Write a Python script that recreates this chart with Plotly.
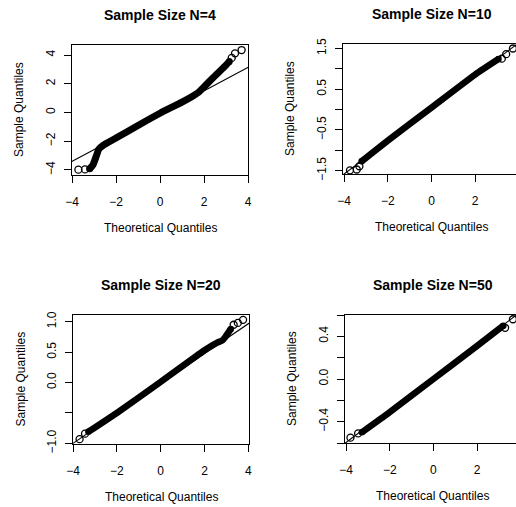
import plotly.graph_objects as go

# ---------------- data ----------------
titles = ["Sample Size N=4", "Sample Size N=10", "Sample Size N=20", "Sample Size N=50"]
x_title = "Theoretical Quantiles"
y_title = "Sample Quantiles"

# dense band of sample quantiles (traced along its centre)
n4_band_x = [-3.2, -3.05, -2.9, -2.78, -2.6, -2.0, -1.0, 0.0, 1.0, 1.5, 1.75, 2.0, 2.5, 3.0, 3.15]
n4_band_y = [-3.92, -3.65, -3.05, -2.55, -2.3, -1.78, -0.9, -0.05, 0.72, 1.15, 1.4, 1.78, 2.55, 3.3, 3.55]
n4_pts_x = [-3.71, -3.41, 3.26, 3.41, 3.71]
n4_pts_y = [-3.98, -3.96, 3.8, 4.12, 4.35]
n4_line_x = [-4.1, 4.1]
n4_line_y = [-3.48, 3.23]

n10_band_x = [-3.2, -2.0, 0.0, 2.0, 3.07]
n10_band_y = [-1.27, -0.76, 0.05, 0.86, 1.24]
n10_pts_x = [-3.73, -3.42, -3.3, 3.22, 3.42, 3.73]
n10_pts_y = [-1.49, -1.47, -1.39, 1.25, 1.36, 1.5]
n10_line_x = [-4.1, 3.9]
n10_line_y = [-1.62, 1.6]

n20_band_x = [-3.3, -2.0, 0.0, 2.0, 2.6, 2.8, 2.95, 3.1, 3.2]
n20_band_y = [-0.81, -0.5, 0.01, 0.53, 0.66, 0.69, 0.75, 0.83, 0.88]
n20_pts_x = [-3.7, -3.45, 3.33, 3.52, 3.76]
n20_pts_y = [-0.93, -0.84, 0.95, 0.98, 1.03]
n20_line_x = [-4.0, 4.05]
n20_line_y = [-1.0, 0.98]

n50_band_x = [-3.28, -2.0, 0.0, 2.0, 3.2]
n50_band_y = [-0.5, -0.31, 0.0, 0.31, 0.5]
n50_pts_x = [-3.8, -3.45, 3.28, 3.64]
n50_pts_y = [-0.55, -0.51, 0.48, 0.56]
n50_line_x = [-4.1, 3.8]
n50_line_y = [-0.61, 0.6]

x_ticks = [-4, -2, 0, 2, 4]
x_tick_text = ["\u22124", "\u22122", "0", "2", "4"]

y_ticks_n4 = [-4, -2, 0, 2, 4]
y_text_n4 = ["\u22124", "\u22122", "0", "2", "4"]
y_ticks_n10 = [-1.5, -1.0, -0.5, 0.0, 0.5, 1.0, 1.5]
y_text_n10 = ["\u22121.5", "", "\u22120.5", "", "0.5", "", "1.5"]
y_ticks_n20 = [-1.0, -0.5, 0.0, 0.5, 1.0]
y_text_n20 = ["\u22121.0", "", "0.0", "0.5", "1.0"]
y_ticks_n50 = [-0.6, -0.4, -0.2, 0.0, 0.2, 0.4, 0.6]
y_text_n50 = ["", "\u22120.4", "", "0.0", "", "0.4", ""]

# ---------------- layout ----------------
W, H = 516, 507
FONT = "Liberation Sans, Arial, Helvetica, sans-serif"

panels = [
    dict(bx=n4_band_x, by=n4_band_y, px=n4_pts_x, py=n4_pts_y, lx=n4_line_x, ly=n4_line_y,
         xr=[-4.0, 4.0], yr=[-4.35, 4.7], yt=y_ticks_n4, ytt=y_text_n4,
         box=(72, 248, 45, 175), right=True, bw=7),
    dict(bx=n10_band_x, by=n10_band_y, px=n10_pts_x, py=n10_pts_y, lx=n10_line_x, ly=n10_line_y,
         xr=[-4.05, 3.87], yr=[-1.58, 1.61], yt=y_ticks_n10, ytt=y_text_n10,
         box=(343, 516, 44, 174), right=False, bw=6.5),
    dict(bx=n20_band_x, by=n20_band_y, px=n20_pts_x, py=n20_pts_y, lx=n20_line_x, ly=n20_line_y,
         xr=[-4.0, 4.03], yr=[-1.01, 1.11], yt=y_ticks_n20, ytt=y_text_n20,
         box=(73, 249, 315, 444), right=True, bw=6.5),
    dict(bx=n50_band_x, by=n50_band_y, px=n50_pts_x, py=n50_pts_y, lx=n50_line_x, ly=n50_line_y,
         xr=[-4.05, 3.78], yr=[-0.6, 0.6], yt=y_ticks_n50, ytt=y_text_n50,
         box=(345, 516, 315, 443), right=False, bw=6.5),
]

fig = go.Figure()
layout = dict(width=W, height=H, margin=dict(l=0, r=0, t=0, b=0, autoexpand=False),
              paper_bgcolor="white", plot_bgcolor="white", showlegend=False,
              font=dict(family=FONT, color="black", size=12))
annotations = []

for i, p in enumerate(panels):
    n = "" if i == 0 else str(i + 1)
    xa, ya = "x" + n, "y" + n
    x0, x1, y0, y1 = p["box"]
    xdom = [x0 / W, x1 / W]
    ydom = [1 - y1 / H, 1 - y0 / H]
    layout["xaxis" + n] = dict(
        domain=xdom, anchor=ya, range=p["xr"], tickmode="array", automargin=False,
        tickvals=x_ticks, ticktext=x_tick_text, ticks="outside", ticklen=7,
        tickwidth=1.2, tickcolor="black", showline=True, linecolor="black",
        linewidth=1.4, mirror=True, showgrid=False, zeroline=False,
        tickfont=dict(size=12, family=FONT), ticklabelstandoff=8)
    layout["yaxis" + n] = dict(
        domain=ydom, anchor=xa, range=p["yr"], tickmode="array", automargin=False,
        tickvals=p["yt"], ticktext=p["ytt"], ticks="outside", ticklen=7,
        tickwidth=1.2, tickcolor="black", showline=True, linecolor="black",
        linewidth=1.4, mirror=p["right"], showgrid=False, zeroline=False,
        tickangle=-90, tickfont=dict(size=12, family=FONT), ticklabelstandoff=4)

    fig.add_trace(go.Scatter(x=p["lx"], y=p["ly"], mode="lines", xaxis=xa, yaxis=ya,
                             line=dict(color="black", width=1.1), hoverinfo="skip"))
    fig.add_trace(go.Scatter(x=p["bx"], y=p["by"], mode="lines", xaxis=xa, yaxis=ya,
                             line=dict(color="black", width=p["bw"], shape="spline", smoothing=0.5),
                             hoverinfo="skip"))
    # rounded ends of the dense band
    fig.add_trace(go.Scatter(x=[p["bx"][0], p["bx"][-1]], y=[p["by"][0], p["by"][-1]],
                             mode="markers", xaxis=xa, yaxis=ya,
                             marker=dict(symbol="circle", size=p["bw"], color="black"),
                             hoverinfo="skip"))
    fig.add_trace(go.Scatter(x=p["px"], y=p["py"], mode="markers", xaxis=xa, yaxis=ya,
                             marker=dict(symbol="circle-open", size=7, color="black",
                                         line=dict(width=1.3, color="black")),
                             cliponaxis=False, hoverinfo="skip"))

    cx = (x0 + x1) / 2 if p["right"] else (x0 + 520) / 2
    annotations.append(dict(text="<b>" + titles[i] + "</b>", x=cx / W, y=1 - (y0 - 30) / H,
                            xref="paper", yref="paper", showarrow=False,
                            font=dict(size=14, family=FONT), xanchor="center", yanchor="middle"))
    annotations.append(dict(text=x_title, x=cx / W, y=1 - (y1 + 53) / H,
                            xref="paper", yref="paper", showarrow=False,
                            font=dict(size=12, family=FONT), xanchor="center", yanchor="middle"))
    annotations.append(dict(text=y_title, x=(x0 - 53) / W, y=1 - ((y0 + y1) / 2) / H,
                            xref="paper", yref="paper", showarrow=False, textangle=-90,
                            font=dict(size=12, family=FONT), xanchor="center", yanchor="middle"))

layout["annotations"] = annotations
fig.update_layout(**layout)
fig.write_html(
    "out.html",
    config={"displayModeBar": False},
    post_script="document.body.style.margin='0';document.body.style.padding='0';"
                "document.documentElement.style.overflow='hidden';",
)
